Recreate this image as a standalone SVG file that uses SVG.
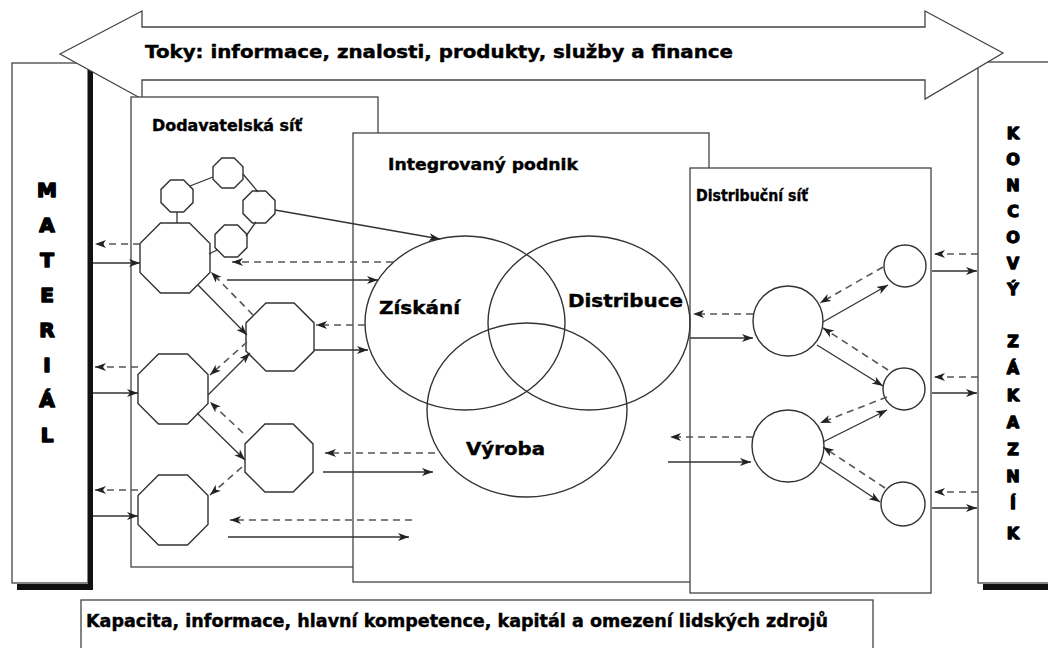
<svg xmlns="http://www.w3.org/2000/svg" width="1048" height="648" viewBox="0 0 1048 648">
<style>
.box{fill:#fff;stroke:#444;stroke-width:1.3}
.shadow{fill:#111}
.node{fill:#fff;stroke:#333;stroke-width:1.4}
.venn{fill:none;stroke:#333;stroke-width:1.4}
.ln{fill:none;stroke:#333;stroke-width:1.3}
.s{fill:none;stroke:#333;stroke-width:1.3;marker-end:url(#ah)}
.d{fill:none;stroke:#555;stroke-width:1.6;stroke-dasharray:7 5;marker-end:url(#ah)}
.t{font-family:"DejaVu Sans","Liberation Sans",Arial,sans-serif;font-weight:700;fill:#000;stroke:#000;stroke-width:0.4}
.big{font-size:17px}
.mid{font-size:16px}
.col{font-size:20px;text-anchor:middle;stroke-width:1.6;stroke-linejoin:round}
.colr{font-size:16px;text-anchor:middle;stroke-width:1.3;stroke-linejoin:round}
</style>
<defs>
<marker id="ah" markerUnits="userSpaceOnUse" markerWidth="12" markerHeight="9" refX="11" refY="4" orient="auto">
<path d="M0,0 L11,4 L0,8 L3,4 Z" fill="#222"/>
</marker>
</defs>
<rect width="1048" height="648" fill="#fff"/>

<g id="material">
<rect class="box" x="12" y="63" width="76" height="520"/>
<rect class="shadow" x="88" y="66" width="5" height="524"/>
<rect class="shadow" x="17" y="584" width="76" height="6"/>
<text class="t col" x="47" y="197">M</text>
<text class="t col" x="47" y="232">A</text>
<text class="t col" x="47" y="267">T</text>
<text class="t col" x="47" y="302">E</text>
<text class="t col" x="47" y="337">R</text>
<text class="t col" x="47" y="372">I</text>
<text class="t col" x="47" y="407">Á</text>
<text class="t col" x="47" y="442">L</text>
</g>

<g id="zakaznik">
<rect class="box" x="978" y="62" width="90" height="521"/>
<rect class="shadow" x="983" y="584" width="70" height="6"/>
<text class="t colr" x="1013" y="139">K</text>
<text class="t colr" x="1013" y="165">O</text>
<text class="t colr" x="1013" y="191">N</text>
<text class="t colr" x="1013" y="217">C</text>
<text class="t colr" x="1013" y="243">O</text>
<text class="t colr" x="1013" y="269">V</text>
<text class="t colr" x="1013" y="295">Ý</text>
<text class="t colr" x="1013" y="347">Z</text>
<text class="t colr" x="1013" y="374">Á</text>
<text class="t colr" x="1013" y="401">K</text>
<text class="t colr" x="1013" y="428">A</text>
<text class="t colr" x="1013" y="455">Z</text>
<text class="t colr" x="1013" y="482">N</text>
<text class="t colr" x="1013" y="509">Í</text>
<text class="t colr" x="1013" y="539">K</text>
</g>

<g id="toky">
<polygon class="box" points="60,54 142,11 142,27 925,27 925,11 1003,53 925,99 925,80 142,80 142,99"/>
<text class="t big" x="145" y="58" textLength="588" lengthAdjust="spacingAndGlyphs">Toky: informace, znalosti, produkty, služby a finance</text>
</g>

<g id="dodavatelska-sit">
<rect class="box" x="131" y="97" width="247" height="470"/>
<text class="t mid" x="152" y="131" textLength="150" lengthAdjust="spacingAndGlyphs">Dodavatelská síť</text>
</g>

<g id="integrovany-podnik">
<rect class="box" x="353" y="133" width="356" height="449"/>
<text class="t mid" x="388" y="170" textLength="190" lengthAdjust="spacingAndGlyphs">Integrovaný podnik</text>
</g>

<g id="distribucni-sit">
<rect class="box" x="690" y="168" width="241" height="425"/>
<text class="t mid" x="696" y="201" textLength="112" lengthAdjust="spacingAndGlyphs">Distribuční síť</text>
</g>

<g id="omezeni">
<rect class="box" x="81" y="600" width="792" height="60"/>
<text class="t big" x="86" y="627" textLength="742" lengthAdjust="spacingAndGlyphs">Kapacita, informace, hlavní kompetence, kapitál a omezení lidských zdrojů</text>
</g>

<g id="ziskani">
<ellipse class="venn" cx="465" cy="323" rx="100" ry="87"/>
<text class="t big" x="379" y="314" textLength="81" lengthAdjust="spacingAndGlyphs">Získání</text>
</g>
<g id="distribuce">
<ellipse class="venn" cx="589" cy="323" rx="101" ry="87"/>
<text class="t big" x="568" y="307" textLength="115" lengthAdjust="spacingAndGlyphs">Distribuce</text>
</g>
<g id="vyroba">
<ellipse class="venn" cx="527" cy="410" rx="100" ry="87"/>
<text class="t big" x="466" y="455" textLength="79" lengthAdjust="spacingAndGlyphs">Výroba</text>
</g>

<g id="o1"><polygon class="node" points="170.4,180 183.6,180 193,189.4 193,202.6 183.6,212 170.4,212 161,202.6 161,189.4"/></g>
<g id="o2"><polygon class="node" points="221.8,158 234.2,158 243,166.8 243,179.2 234.2,188 221.8,188 213,179.2 213,166.8"/></g>
<g id="o3"><polygon class="node" points="252.4,191 265.6,191 275,200.4 275,213.6 265.6,223 252.4,223 243,213.6 243,200.4"/></g>
<g id="o4"><polygon class="node" points="224.4,225 237.6,225 247,234.4 247,247.6 237.6,257 224.4,257 215,247.6 215,234.4"/></g>
<g id="b1"><polygon class="node" points="160.5,223 189.5,223 210,243.5 210,272.5 189.5,293 160.5,293 140,272.5 140,243.5"/></g>
<g id="b2"><polygon class="node" points="265.9,303 294.1,303 314,322.9 314,351.1 294.1,371 265.9,371 246,351.1 246,322.9"/></g>
<g id="b3"><polygon class="node" points="158.5,354 187.5,354 208,374.5 208,403.5 187.5,424 158.5,424 138,403.5 138,374.5"/></g>
<g id="b4"><polygon class="node" points="264.9,424 293.1,424 313,443.9 313,472.1 293.1,492 264.9,492 245,472.1 245,443.9"/></g>
<g id="b5"><polygon class="node" points="158.5,475 187.5,475 208,495.5 208,524.5 187.5,545 158.5,545 138,524.5 138,495.5"/></g>

<g id="d1"><circle class="node" cx="788" cy="321" r="35"/></g>
<g id="d2"><circle class="node" cx="788" cy="446" r="36"/></g>
<g id="s1"><circle class="node" cx="905" cy="266" r="21"/></g>
<g id="s2"><circle class="node" cx="904" cy="389" r="21"/></g>
<g id="s3"><circle class="node" cx="903" cy="504" r="22"/></g>

<g id="connectors">
<path class="ln" d="M190,186 L213,177"/>
<path class="ln" d="M243,174 L258,192"/>
<path class="ln" d="M256,222 L246,236"/>
<path class="ln" d="M177,212 L177,223"/>
<path class="ln" d="M217,250 L209,254"/>
<path class="s" d="M275,210 L440,239"/>

<path class="d" d="M140,244 L95,244"/>
<path class="s" d="M93,263 L140,263"/>
<path class="d" d="M138,367 L95,367"/>
<path class="s" d="M93,393 L138,393"/>
<path class="d" d="M138,490 L95,490"/>
<path class="s" d="M93,516 L138,516"/>

<path class="s" d="M198,285 L247,335"/>
<path class="d" d="M253,315 L211,272"/>
<path class="s" d="M208,395 L250,353"/>
<path class="d" d="M247,342 L210,375"/>
<path class="s" d="M197,413 L245,460"/>
<path class="d" d="M243,433 L210,402"/>
<path class="d" d="M242,467 L210,495"/>

<path class="d" d="M393,262 L232,262"/>
<path class="s" d="M227,280 L378,280"/>
<path class="d" d="M365,325 L316,325"/>
<path class="s" d="M314,350 L368,350"/>
<path class="d" d="M435,453 L325,453"/>
<path class="s" d="M323,472 L433,472"/>
<path class="d" d="M412,520 L230,520"/>
<path class="s" d="M228,537 L409,537"/>

<path class="d" d="M753,314 L693,314"/>
<path class="s" d="M690,338 L753,338"/>
<path class="s" d="M823,322 L888,285"/>
<path class="d" d="M883,267 L820,303"/>
<path class="s" d="M817,345 L883,386"/>
<path class="d" d="M888,370 L823,328"/>
<path class="d" d="M753,437 L670,437"/>
<path class="s" d="M668,462 L751,462"/>
<path class="s" d="M823,442 L887,410"/>
<path class="d" d="M887,397 L820,423"/>
<path class="s" d="M820,462 L880,502"/>
<path class="d" d="M885,488 L823,447"/>

<path class="d" d="M978,254 L934,254"/>
<path class="s" d="M932,271 L977,271"/>
<path class="d" d="M978,377 L934,377"/>
<path class="s" d="M932,393 L977,393"/>
<path class="d" d="M978,492 L934,492"/>
<path class="s" d="M932,508 L977,508"/>
</g>
</svg>
